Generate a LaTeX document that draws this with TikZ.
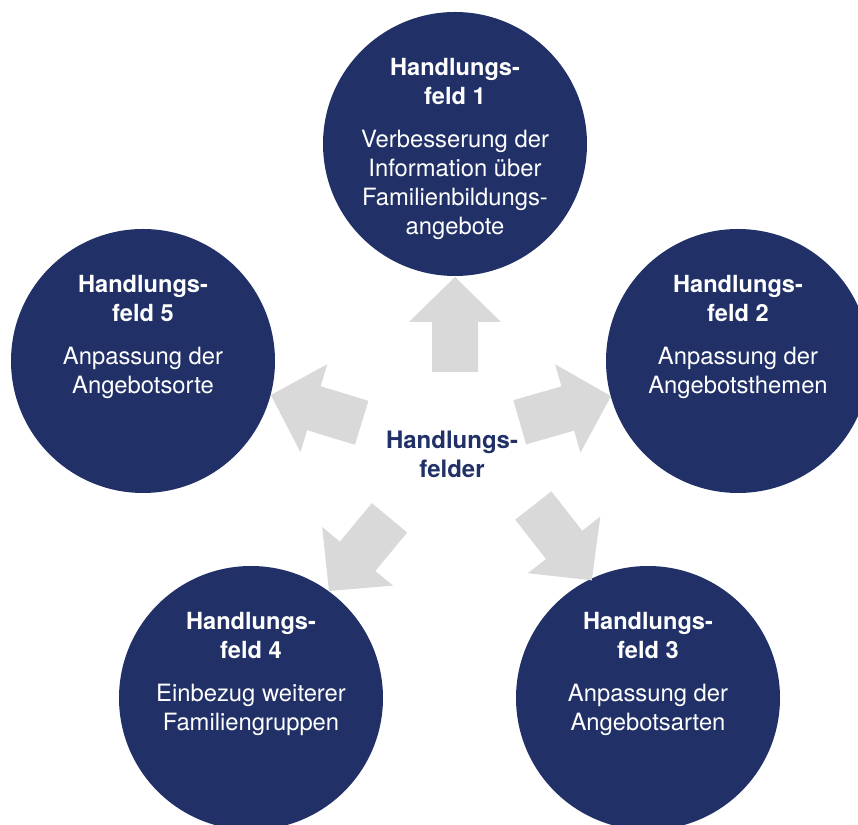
\documentclass[tikz,border=0pt]{standalone}
\usepackage{fontspec}
\setmainfont{TeX Gyre Heros}
\usepackage{xcolor}
\usetikzlibrary{positioning,calc}
\definecolor{navy}{RGB}{33,49,104}
\definecolor{blockgrey}{RGB}{217,217,217}

\begin{document}
\begin{tikzpicture}[x=0.5pt, y=0.5pt,
  field/.style={circle, fill=navy, minimum size=132pt, inner sep=0pt},
  ftitle/.style={anchor=north, align=center, text=white, inner sep=0pt, font=\fontsize{11.8}{14.5}\selectfont\bfseries},
  fbody/.style={anchor=north, align=center, text=white, inner sep=0pt, font=\fontsize{11.9}{14.5}\selectfont},
  hub/.style={align=center, text=navy, inner sep=0pt, font=\fontsize{12}{14.5}\selectfont\bfseries},
  block/.style={fill=blockgrey}]
\useasboundingbox (0,0) rectangle (858,825);
\clip (0,0) rectangle (858,825);
% the five fields
\node[field] (f1) at (455,681) {};
\node[field] (f2) at (738,464) {};
\node[field] (f3) at (648,127) {};
\node[field] (f4) at (251,127) {};
\node[field] (f5) at (143,464) {};
\node[ftitle] (t1) at ([yshift=43pt]f1.center) {Handlungs-\\feld 1};
\node[fbody] (b1) at ([yshift=6.9pt]f1.center) {Verbesserung der\\Information über\\Familienbildungs-\\angebote};
\node[ftitle] (t2) at ([yshift=43pt]f2.center) {Handlungs-\\feld 2};
\node[fbody] (b2) at ([yshift=6.9pt]f2.center) {Anpassung der\\Angebotsthemen};
\node[ftitle] (t3) at ([yshift=43pt]f3.center) {Handlungs-\\feld 3};
\node[fbody] (b3) at ([yshift=6.9pt]f3.center) {Anpassung der\\Angebotsarten};
\node[ftitle] (t4) at ([yshift=43pt]f4.center) {Handlungs-\\feld 4};
\node[fbody] (b4) at ([yshift=6.9pt]f4.center) {Einbezug weiterer\\Familiengruppen};
\node[ftitle] (t5) at ([yshift=43pt]f5.center) {Handlungs-\\feld 5};
\node[fbody] (b5) at ([yshift=6.9pt]f5.center) {Anpassung der\\Angebotsorte};
% centre and block arrows
\node[hub] (hub) at (452,370.5) {Handlungs-\\felder};
\foreach \x/\y/\a in {455/453/90, 519.7/402.7/16, 533.3/319.5/-52, 389.5/307.2/-129.6, 361.7/402.2/163}
  \fill[block, shift={(\x,\y)}, rotate=\a] (0,-23) -- (50,-23) -- (50,-46) -- (95,0) -- (50,46) -- (50,23) -- (0,23) -- cycle;
\end{tikzpicture}
\end{document}
